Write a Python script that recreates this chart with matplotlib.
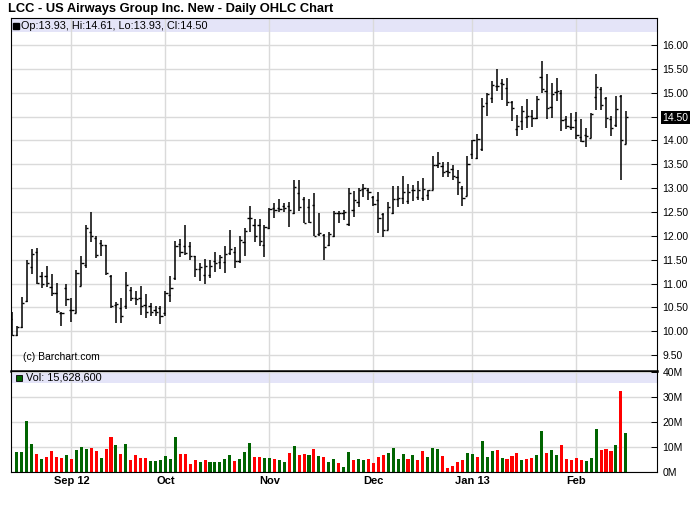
import matplotlib.pyplot as plt
from matplotlib.patches import Rectangle
import numpy as np

plt.rcParams['font.family'] = ['Liberation Sans', 'DejaVu Sans']

# -------------------------
# DATA (daily OHLC, Aug 16 2012 - Feb 15 2013)
# -------------------------
opens = [10.25, 9.92, 10.08, 10.64, 11.34, 11.65, 11.15, 11.15, 10.92, 10.80,
         10.39, 10.90, 10.45, 10.39, 10.95, 11.39, 12.09, 11.95, 11.85, 11.81,
         11.16, 10.55, 10.48, 10.52, 10.87, 10.69, 10.69, 10.55, 10.52, 10.45,
         10.48, 10.38, 10.76, 11.11, 11.83, 11.79, 11.78, 11.58, 11.31, 11.18,
         11.18, 11.48, 11.46, 11.46, 11.64, 11.65, 11.48, 11.88, 12.37, 12.23,
         12.23, 11.81, 12.16, 12.58, 12.58, 12.63, 12.62, 12.48, 12.90, 12.78,
         12.60, 12.64, 12.04, 12.02, 11.81, 12.00, 12.48, 12.48, 12.25, 12.55,
         12.70, 12.98, 12.97, 12.82, 12.75, 12.45, 12.13, 12.47, 12.77, 12.79,
         12.72, 12.95, 12.82, 12.79, 12.86, 12.97, 13.49, 13.46, 13.35, 13.39,
         13.23, 13.00, 12.84, 13.72, 13.63, 13.81, 14.79, 14.89, 15.14, 15.21,
         15.10, 14.80, 14.24, 14.40, 14.49, 14.52, 14.47, 15.33, 15.03, 14.70,
         15.01, 15.00, 14.45, 14.28, 14.42, 14.07, 14.12, 14.05, 14.91, 15.08,
         14.89, 14.45, 14.33, 14.94, 13.93]
highs = [10.41, 10.10, 10.71, 11.50, 11.72, 11.75, 11.25, 11.37, 11.20, 11.02,
         10.41, 11.00, 10.69, 11.29, 11.57, 12.22, 12.49, 11.99, 11.92, 11.81,
         11.18, 10.62, 10.69, 11.25, 10.92, 10.85, 10.95, 10.78, 10.60, 10.52,
         10.52, 10.85, 11.15, 11.90, 11.94, 12.23, 11.86, 11.58, 11.43, 11.51,
         11.50, 11.67, 11.60, 11.79, 12.13, 11.76, 11.99, 12.16, 12.63, 12.35,
         12.35, 12.23, 12.58, 12.69, 12.77, 12.69, 12.70, 13.17, 13.18, 12.81,
         12.77, 12.89, 12.48, 12.04, 12.08, 12.52, 12.52, 12.55, 13.00, 12.93,
         13.00, 13.09, 13.00, 12.83, 12.91, 12.47, 12.70, 13.05, 13.05, 13.26,
         13.09, 13.07, 13.14, 13.21, 12.97, 13.68, 13.76, 13.54, 13.54, 13.49,
         13.37, 13.05, 13.68, 14.01, 14.14, 14.89, 15.00, 15.24, 15.50, 15.29,
         15.31, 14.82, 14.54, 14.72, 14.87, 14.63, 14.93, 15.66, 15.40, 15.21,
         15.31, 15.05, 14.51, 14.58, 14.59, 14.44, 14.26, 14.58, 15.40, 15.12,
         14.91, 14.52, 14.94, 14.96, 14.61]
lows = [9.89, 9.89, 10.06, 10.62, 11.20, 11.00, 10.90, 10.92, 10.73, 10.39,
        10.10, 10.52, 10.20, 10.38, 10.94, 11.32, 11.88, 11.53, 11.58, 11.18,
        10.48, 10.18, 10.18, 10.46, 10.64, 10.55, 10.34, 10.27, 10.31, 10.32,
        10.15, 10.31, 10.62, 11.08, 11.55, 11.60, 11.50, 11.13, 11.06, 11.00,
        11.11, 11.25, 11.30, 11.23, 11.60, 11.32, 11.44, 11.58, 12.09, 11.88,
        11.78, 11.55, 12.14, 12.37, 12.50, 12.49, 12.18, 12.45, 12.53, 12.26,
        12.26, 11.99, 12.00, 11.50, 11.79, 11.97, 12.26, 12.34, 12.20, 12.40,
        12.60, 12.82, 12.76, 12.62, 12.06, 11.98, 12.12, 12.45, 12.60, 12.66,
        12.66, 12.72, 12.76, 12.72, 12.76, 12.95, 13.42, 13.23, 13.23, 13.16,
        12.86, 12.63, 12.83, 13.61, 13.61, 13.77, 14.52, 14.79, 15.03, 14.84,
        14.72, 14.40, 14.10, 14.21, 14.26, 14.28, 14.44, 15.00, 14.44, 14.47,
        14.82, 14.19, 14.23, 14.21, 14.03, 13.96, 13.86, 14.05, 14.63, 14.63,
        14.26, 14.09, 14.28, 13.16, 13.93]
closes = [9.92, 10.08, 10.59, 11.44, 11.62, 11.02, 10.98, 11.02, 10.81, 10.43,
          10.39, 10.67, 10.45, 11.22, 11.44, 12.16, 12.00, 11.60, 11.81, 11.22,
          10.52, 10.57, 10.32, 10.97, 10.69, 10.67, 10.52, 10.41, 10.41, 10.41,
          10.32, 10.80, 10.90, 11.79, 11.67, 11.64, 11.58, 11.31, 11.34, 11.36,
          11.36, 11.44, 11.55, 11.62, 11.72, 11.48, 11.92, 12.10, 12.37, 11.99,
          11.90, 12.18, 12.56, 12.55, 12.56, 12.58, 12.55, 13.03, 12.60, 12.26,
          12.28, 12.00, 12.05, 11.76, 12.04, 12.48, 12.48, 12.50, 12.90, 12.75,
          12.97, 13.00, 12.91, 12.66, 12.38, 12.13, 12.60, 12.77, 12.79, 12.91,
          12.91, 12.95, 12.97, 12.98, 12.95, 13.49, 13.53, 13.33, 13.33, 13.25,
          13.12, 12.79, 13.51, 14.00, 14.03, 14.73, 14.98, 15.17, 15.15, 15.19,
          14.80, 14.68, 14.30, 14.61, 14.51, 14.47, 14.86, 15.08, 14.68, 14.98,
          15.03, 14.42, 14.31, 14.28, 14.12, 13.98, 14.10, 14.56, 15.12, 14.75,
          14.47, 14.26, 14.66, 14.00, 14.50]

# volume in millions, starting from the second session (first bar has no visible volume)
volume = [7.9, 7.9, 20.3, 11.1, 7.1, 5.1, 5.9, 8.3, 5.9, 5.5,
          6.7, 5.1, 8.7, 9.9, 9.1, 9.5, 8.3, 5.5, 9.1, 13.9,
          10.7, 7.1, 11.1, 4.7, 6.7, 5.5, 5.5, 4.3, 4.3, 4.7,
          6.3, 5.1, 13.9, 7.1, 7.1, 3.1, 4.7, 3.9, 4.7, 3.9,
          3.9, 3.9, 5.1, 6.7, 4.3, 5.1, 7.9, 11.5, 5.9, 5.9,
          5.5, 5.5, 5.1, 4.7, 3.9, 7.5, 10.3, 6.7, 7.1, 6.7,
          9.1, 6.3, 5.9, 3.9, 5.1, 3.5, 1.9, 7.9, 4.7, 5.1,
          4.7, 5.1, 3.5, 5.9, 6.7, 7.5, 9.5, 5.1, 7.1, 5.1,
          6.7, 4.7, 8.3, 5.9, 9.5, 9.1, 6.3, 1.5, 2.3, 3.9,
          4.7, 7.5, 7.1, 5.9, 12.3, 5.9, 8.3, 8.7, 5.5, 5.1,
          6.3, 7.5, 4.7, 5.1, 5.5, 6.7, 16.3, 7.5, 8.7, 6.7,
          10.7, 5.1, 4.7, 5.5, 4.7, 4.3, 5.5, 17.1, 8.7, 9.1,
          8.3, 10.7, 32.3, 15.6286]
# g = up day, r = down day (10 sessions per chunk)
vol_dir = ("ggggrgrrrr" "grgggrrgrr" "grgrrrrggg" "gggrrrrgrg" "ggggrgggrr"
           "ggrggrgrrg" "rgrggrggrg" "grrrrggggr" "grrgggrrrr" "rggrgggrgr"
           "rrgrrggrgg" "rrrrrgggrr" "rgrg")
last_volume = 15628600

month_pos = [12, 31, 52, 73, 93, 114]
month_labels = ["Sep 12", "Oct", "Nov", "Dec", "Jan 13", "Feb"]

price_ticks = np.arange(9.5, 16.01, 0.5)
vol_ticks = [0, 10, 20, 30, 40]

# -------------------------
# PLOT
# -------------------------
fig = plt.figure(figsize=(7, 5.12), dpi=100)
ax = fig.add_axes([0.0157, 0.2754, 0.9229, 0.6895])
axv = fig.add_axes([0.0157, 0.0787, 0.9229, 0.1967], sharex=ax)

x = np.arange(len(opens))
ax.vlines(x, lows, highs, color='black', lw=1.1)
ax.hlines(opens, x - 0.45, x, color='black', lw=1.0)
ax.hlines(closes, x, x + 0.45, color='black', lw=1.0)

ax.set_xlim(-0.2, 130.3)
ax.set_ylim(9.166, 16.566)
ax.yaxis.tick_right()
ax.set_yticks(price_ticks)
ax.set_yticklabels([f"{t:.2f}" for t in price_ticks])
ax.tick_params(axis='y', direction='in', length=4, width=0.7, labelsize=7.5, pad=4)
ax.tick_params(axis='x', length=0, labelbottom=False)
ax.set_xticks(month_pos)
ax.grid(color='#dadada', lw=1)
ax.set_axisbelow(True)

last_lbl = f"{closes[-1]:.2f}"
for lbl in ax.get_yticklabels():
    if lbl.get_text() == last_lbl:
        lbl.set_color('white')
        lbl.set_bbox(dict(facecolor='black', edgecolor='none', pad=1.0))

# legend strip on top
ax.add_patch(Rectangle((0, 0.96), 1, 0.04, transform=ax.transAxes,
                       facecolor='#e4e4f8', edgecolor='none', zorder=0.3))
ax.plot([0.0073], [0.978], marker='s', ms=4.5, color='black', transform=ax.transAxes)
ax.text(0.0155, 0.978,
        f"Op:{opens[-1]:.2f}, Hi:{highs[-1]:.2f}, Lo:{lows[-1]:.2f}, Cl:{closes[-1]:.2f}",
        transform=ax.transAxes, fontsize=7.8, va='center', ha='left')
ax.text(0.018, 0.04, "(c) Barchart.com", transform=ax.transAxes,
        fontsize=7.5, va='center', ha='left')

for sp in ax.spines.values():
    sp.set_linewidth(0.8)
ax.spines['bottom'].set_linewidth(1.8)

# volume panel
vx = np.arange(1, len(volume) + 1)
colors = ['#006400' if d == 'g' else '#ff0000' for d in vol_dir]
axv.bar(vx, volume, width=0.62, color=colors)
axv.set_ylim(0, 40.52)
axv.yaxis.tick_right()
axv.set_yticks(vol_ticks)
axv.set_yticklabels([f"{v}M" for v in vol_ticks])
axv.tick_params(axis='y', direction='in', length=4, width=0.7, labelsize=7.5, pad=4)
axv.set_xticks(month_pos)
axv.set_xticklabels(month_labels, fontsize=8, fontweight='bold')
axv.tick_params(axis='x', length=0, pad=3)
axv.grid(color='#dadada', lw=1)
axv.set_axisbelow(True)

axv.add_patch(Rectangle((0, 0.88), 1, 0.12, transform=axv.transAxes,
                        facecolor='#e4e4f8', edgecolor='none', zorder=0.3))
axv.plot([0.012], [0.934], marker='s', ms=5, color='#006400', mec='black', mew=0.6,
         transform=axv.transAxes)
axv.text(0.023, 0.934, f"Vol: {last_volume:,}", transform=axv.transAxes,
         fontsize=7.8, va='center', ha='left')
for sp in axv.spines.values():
    sp.set_linewidth(0.8)

fig.text(8 / 700, 1 - 9 / 512, "LCC - US Airways Group Inc. New - Daily OHLC Chart",
         fontsize=9.3, fontweight='bold', va='center', ha='left')

fig.savefig("out.png", dpi=100)
